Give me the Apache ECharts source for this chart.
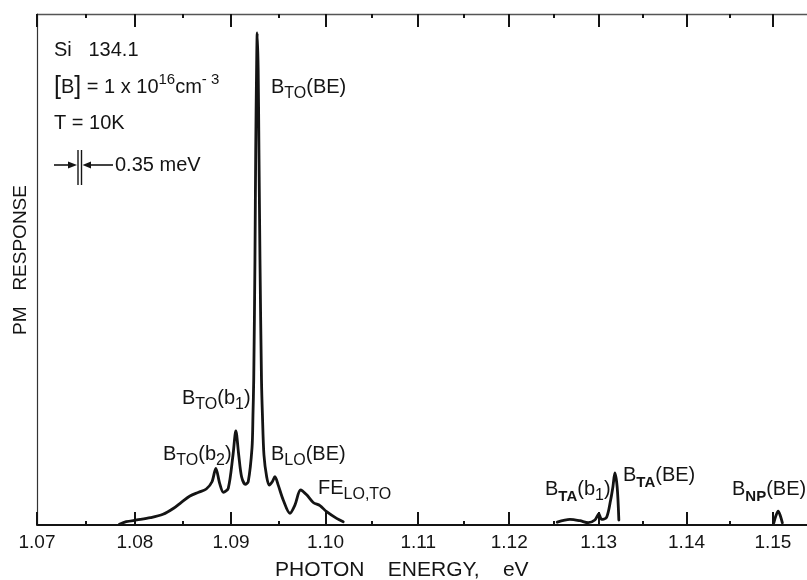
<!DOCTYPE html>
<html>
<head>
<meta charset="utf-8">
<script src="https://cdn.jsdelivr.net/npm/echarts@6/dist/echarts.min.js"></script>
<style>
  html, body { margin: 0; padding: 0; background: #fff; }
  #chart { width: 807px; height: 580px; }
</style>
</head>
<body>
<div id="chart"></div>
<script>
// Photoluminescence of Si 134.1, PM response versus photon energy (eV).
// TO / LO phonon-assisted region
const toEnergy = [
  1.0784, 1.0791, 1.0802, 1.0816, 1.0829, 1.0840, 1.0848, 1.0857, 1.0866, 1.0874,
  1.0880, 1.0884, 1.0888, 1.0892, 1.0897, 1.0902, 1.0905, 1.0908, 1.0911, 1.0915,
  1.0918, 1.0922, 1.0923, 1.09238, 1.09251, 1.09259, 1.09268, 1.09275, 1.09285, 1.09293,
  1.09304, 1.09320, 1.09330, 1.09346, 1.09375, 1.09402, 1.09434, 1.09462, 1.09497, 1.09550,
  1.09621, 1.09674, 1.09735, 1.09799, 1.09869, 1.09941, 1.10012, 1.10119, 1.10190
];
const toResp = [
  0.14, 0.65, 0.98, 1.43, 2.09, 3.27, 4.44, 5.68, 6.40, 7.05,
  8.47, 11.1, 8.16, 6.40, 7.18, 13.7, 18.4, 13.7, 9.45, 7.96,
  8.47, 15.1, 21.5, 28.4, 51.9, 73.4, 89.0, 96.3, 89.0, 73.4,
  51.9, 28.4, 21.5, 13.7, 9.4, 7.8, 8.47, 9.45, 7.8, 4.9,
  2.3, 3.9, 6.85, 5.9, 4.4, 3.8, 2.6, 1.3, 0.65
];
// TA phonon-assisted region
const taEnergy = [1.12534, 1.12676, 1.12788, 1.12882, 1.12957, 1.13002, 1.13033, 1.13089, 1.13135, 1.13161, 1.13183, 1.13209, 1.13228];
const taResp   = [0.55, 1.1, 0.84, 0.45, 0.98, 2.15, 1.1, 1.5, 4.9, 7.5, 10.2, 7.4, 0.98];
// no-phonon line
const npEnergy = [1.15011, 1.15035, 1.15062, 1.15087, 1.15111];
const npResp   = [0.4, 1.8, 2.7, 1.8, 0.4];

const majorTicks = [1.07, 1.08, 1.09, 1.10, 1.11, 1.12, 1.13, 1.14, 1.15];
const minorTicks = [1.075, 1.085, 1.095, 1.105, 1.115, 1.125, 1.135, 1.145];
const energyMin = 1.07;
const energyMax = 1.154;

// The spectrometer scans linearly in wavelength, so the axis is linear in 1/E.
const toAxis = e => -1 / e;
const fromAxis = t => -1 / t;
const pairs = (xs, ys) => xs.map((e, i) => [toAxis(e), ys[i]]);

const FONT = 'Liberation Sans';
const INK = '#141414';

const rich = {
  m: { fontSize: 20, fontFamily: FONT, fill: INK, lineHeight: 30 },
  br: { fontSize: 25, fontFamily: FONT, fill: INK },
  s: { fontSize: 16, fontFamily: FONT, fill: INK, verticalAlign: 'bottom' },
  sb: { fontSize: 15, fontFamily: FONT, fill: INK, fontWeight: 'bold', verticalAlign: 'bottom' },
  p: { fontSize: 15, fontFamily: FONT, fill: INK, verticalAlign: 'top' }
};

function label(x, y, text) {
  return {
    type: 'text', x: x, y: y, z: 10,
    style: { text: text, rich: rich, fill: INK, font: '20px ' + FONT, verticalAlign: 'middle', align: 'left' }
  };
}
function seg(x1, y1, x2, y2, w) {
  return { type: 'line', z: 10, shape: { x1, y1, x2, y2 }, style: { stroke: INK, lineWidth: w } };
}
function head(points) {
  return { type: 'polygon', z: 10, shape: { points }, style: { fill: INK } };
}

const tickAxis = (position, values, len, showLine, showLabel) => ({
  type: 'value',
  position: position,
  min: toAxis(energyMin),
  max: toAxis(energyMax),
  axisLine: { show: showLine, onZero: false, lineStyle: { color: position === 'top' ? '#555' : INK, width: position === 'top' ? 1.4 : 2 } },
  axisTick: { show: true, inside: true, length: len, customValues: values.map(toAxis), lineStyle: { color: INK, width: 2 } },
  axisLabel: {
    show: showLabel,
    customValues: values.map(toAxis),
    formatter: v => fromAxis(v).toFixed(2),
    fontFamily: FONT, fontSize: 19, color: INK, margin: 8
  },
  splitLine: { show: false }
});

const lineSeries = (name, xs, ys) => ({
  name: name,
  type: 'line',
  xAxisIndex: 0,
  data: pairs(xs, ys),
  symbol: 'none',
  smooth: 0.3,
  lineStyle: { color: INK, width: 2.8, join: 'round', cap: 'round' }
});

const chart = echarts.init(document.getElementById('chart'), null, { renderer: 'canvas' });
chart.setOption({
  animation: false,
  backgroundColor: '#fff',
  grid: { left: 37, right: 0, top: 14, bottom: 55, containLabel: false },
  xAxis: [
    tickAxis('bottom', majorTicks, 13, true, true),
    tickAxis('top', majorTicks, 13, true, false),
    tickAxis('bottom', minorTicks, 4, false, false),
    tickAxis('top', minorTicks, 4, false, false)
  ],
  yAxis: {
    type: 'value', min: 0, max: 100,
    axisLine: { show: true, lineStyle: { color: '#333', width: 1.2 } },
    axisTick: { show: false }, axisLabel: { show: false }, splitLine: { show: false }
  },
  series: [
    lineSeries('TO', toEnergy, toResp),
    lineSeries('TA', taEnergy, taResp),
    lineSeries('NP', npEnergy, npResp)
  ],
  graphic: [
    // axis titles
    { type: 'text', x: 275, y: 570, z: 10,
      style: { text: 'PHOTON    ENERGY,    eV', font: '21px ' + FONT, fill: INK, align: 'left', verticalAlign: 'middle' } },
    { type: 'text', x: 21, y: 260, rotation: Math.PI / 2, z: 10,
      style: { text: 'PM   RESPONSE', font: '19px ' + FONT, fill: INK, align: 'center', verticalAlign: 'middle' } },
    // sample information
    label(54, 50, '{m|Si   134.1}'),
    label(54, 87, '{br|[}{m|B}{br|]}{m| = 1 x 10}{p|16}{m|cm}{p|- 3}'),
    label(54, 123, '{m|T = 10K}'),
    // resolution marker
    seg(54, 165, 71, 165, 1.6),
    head([[68, 161.5], [77, 165], [68, 168.5]]),
    seg(78, 150, 78, 185, 1.4),
    seg(81.5, 150, 81.5, 185, 1.4),
    head([[91, 161.5], [82.5, 165], [91, 168.5]]),
    seg(88, 165, 113, 165, 1.6),
    label(115, 165, '{m|0.35 meV}'),
    // line assignments
    label(271, 87, '{m|B}{s|TO}{m|(BE)}'),
    label(182, 398, '{m|B}{s|TO}{m|(b}{s|1}{m|)}'),
    label(163, 454, '{m|B}{s|TO}{m|(b}{s|2}{m|)}'),
    label(271, 454, '{m|B}{s|LO}{m|(BE)}'),
    label(318, 488, '{m|FE}{s|LO,TO}'),
    label(545, 489, '{m|B}{sb|TA}{m|(b}{s|1}{m|)}'),
    label(623, 475, '{m|B}{sb|TA}{m|(BE)}'),
    label(732, 489, '{m|B}{sb|NP}{m|(BE)}')
  ]
});
</script>
</body>
</html>
